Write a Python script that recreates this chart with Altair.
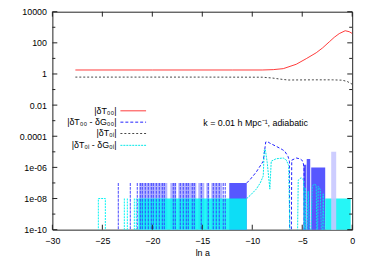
import altair as alt
import pandas as pd

FLOOR = 1e-12  # "zero" values, clipped below the axis

# |dT00| (red)
red_x = [-27.7, -20, -12, -9.0, -7.9, -6.9, -5.6, -4.6, -3.6, -2.95, -2.3, -1.8, -1.3, -0.7, -0.3, 0.0]
red_y = [1.8, 1.8, 1.8, 1.8, 1.9, 2.2, 4.2, 9.6, 23, 48, 115, 225, 390, 600, 520, 400]

# |dT0i| (black dotted)
blk_x = [-27.7, -15, -9, -8, -7, -6.4, -4, -2, -1, -0.5, 0]
blk_y = [0.63, 0.63, 0.62, 0.55, 0.45, 0.41, 0.42, 0.42, 0.4, 0.33, 0.22]

# |dT00 - dG00| (blue dashed) smooth part
blu_x = [-10.55, -10.2, -9.6, -8.9, -8.65, -8.5, -8.24, -7.57, -7.0, -6.75, -6.42, -6.28, -6.25,
         -6.1, -6.05, -5.59, -5.2, -4.93, -4.82, -4.8]
blu_y = [1e-7, 1.7e-7, 5e-7, 2.5e-6, 4.3e-5, 4.6e-5, 3.6e-5, 2.2e-5, 1.4e-5, 1.1e-5, 5e-6, 2.5e-6, FLOOR,
         FLOOR, 2.9e-6, 4e-6, 3.5e-6, 2.5e-6, 1e-6, FLOOR]
# blue noise: single dashed spikes (top 1e-7)
blu_spike_x = [-23.4, -22.2, -21.5, -21.2, -21.0, -20.7, -20.4, -20.1, -19.9, -19.6, -19.3, -19.0, -18.8,
               -17.9, -17.7, -17.2, -16.9, -16.6, -16.4, -16.0, -15.8, -15.1, -14.4, -13.9, -13.6,
               -13.3, -12.9, -12.7]
blu_spike_top = 1e-7
# blue noise: light (sparse) bands
blu_lt_x1 = [-21.3, -18.2, -17.4, -15.4, -14.6, -14.1]
blu_lt_x2 = [-18.5, -17.6, -15.6, -14.8, -14.3, -13.0]
blu_lt_top = [1e-7, 1e-7, 1e-7, 1e-7, 1e-7, 1e-7]
# blue noise: dense blocks
blu_dk_x1 = [-12.3, -4.87, -4.55, -4.1]
blu_dk_x2 = [-10.55, -4.6, -4.2, -2.7]
blu_dk_top = [1e-7, 1.5e-6, 3.5e-6, 1e-6]
# light strip near ln a = -2
blu_strip_x1 = [-2.1]
blu_strip_x2 = [-1.6]
blu_strip_top = [1e-5]

# |dT0i - dG0i| (cyan)
cyn_x = [-10.55, -10.2, -9.6, -9.2, -8.9, -8.8, -8.7, -8.5, -8.3, -8.24, -8.1, -7.6, -6.9, -6.6, -6.35, -6.2,
         -5.5, -5.4, -5.1, -4.85, -4.8, -4.7, -4.6, -4.4, -4.2, -4.0, -3.8, -3.6, -3.5, -3.4, -3.2, -3.0,
         -2.9, -2.75]
cyn_y = [1e-8, 1.6e-8, 4e-8, 1e-7, 2.8e-7, 1.3e-5, 1.5e-5, 2e-6, 1e-7, 4e-8, 2.5e-6, 3.6e-6, 4e-6, 3e-6, 1.3e-6, FLOOR,
         FLOOR, 1.5e-7, 2.2e-7, 1.5e-7, FLOOR, 5e-8, FLOOR, 3e-8, FLOOR, 6e-8, 8.5e-8, 7e-8, FLOOR, 6e-8, 4e-8, FLOOR,
         2e-8, FLOOR]
cyn_box_x = [-25.4, -25.4, -24.7, -24.7]
cyn_box_y = [FLOOR, 1e-8, 1e-8, FLOOR]
cyn_spike_x = [-22.8, -22.5, -21.8, -21.6]
cyn_spike_top = 1e-8
cyn_band_x1 = [-21.4, -2.7]
cyn_band_x2 = [-10.55, -0.15]
cyn_band_top = [1e-8, 1e-8]

x_ticks = [-30, -25, -20, -15, -10, -5, 0]
y_major = [1e4, 1e2, 1, 1e-2, 1e-4, 1e-6, 1e-8, 1e-10]
y_minor = [1e3, 10, 0.1, 1e-3, 1e-5, 1e-7, 1e-9]

legend_labels = ["|δT₀₀|", "|δT₀₀ - δG₀₀|", "|δT₀ᵢ|", "|δT₀ᵢ - δG₀ᵢ|"]
note = "k = 0.01 h Mpc⁻¹, adiabatic"

W, H = 304, 221
FONT = "Liberation Sans"
RED, BLUE, BLACK, CYAN = "#ff3a3a", "#2020ff", "#444444", "#00f4f4"

XS = alt.Scale(domain=[-30, 0], nice=False, zero=False)
YS = alt.Scale(type="log", domain=[1e-10, 1e4], nice=False)
XA = alt.Axis(values=x_ticks, format="d", ticks=False, domain=False, grid=False,
              labelPadding=7, labelFlush=False, labelOverlap=False, title="ln a", titlePadding=3)
YA = alt.Axis(values=y_major, ticks=False, domain=False, grid=False, labelPadding=6,
              labelOverlap=False, labelFlush=False, title=None,
              labelExpr="datum.value >= 0.0001 ? format(datum.value, '~g') : "
                        "(round(-log(datum.value)/LN10) < 10 ? '1e-0' : '1e-') + round(-log(datum.value)/LN10)")


def X(f):
    return alt.X(f, type="quantitative", scale=XS, axis=XA)


def Y(f):
    return alt.Y(f, type="quantitative", scale=YS, axis=YA)


def df(**kw):
    return pd.DataFrame(kw)


floor_col = lambda n: [FLOOR] * n

red = alt.Chart(df(x=red_x, y=red_y)).mark_line(color=RED, strokeWidth=1, clip=True).encode(
    x=X("x"), y=Y("y"))

blu_light = alt.Chart(df(x1=blu_lt_x1, x2=blu_lt_x2, t=blu_lt_top, b=floor_col(len(blu_lt_x1)))).mark_rect(
    color="#b4b4ff", clip=True).encode(x=X("x1"), x2="x2", y=Y("t"), y2="b")
blu_dark = alt.Chart(df(x1=blu_dk_x1, x2=blu_dk_x2, t=blu_dk_top, b=floor_col(len(blu_dk_x1)))).mark_rect(
    color="#3a3aff", opacity=0.85, clip=True).encode(x=X("x1"), x2="x2", y=Y("t"), y2="b")
cyn_band = alt.Chart(df(x1=cyn_band_x1, x2=cyn_band_x2, t=cyn_band_top, b=floor_col(len(cyn_band_x1)))).mark_rect(
    color=CYAN, opacity=0.85, clip=True).encode(x=X("x1"), x2="x2", y=Y("t"), y2="b")
blu_spikes = alt.Chart(df(x=blu_spike_x, t=[blu_spike_top] * len(blu_spike_x),
                          b=floor_col(len(blu_spike_x)))).mark_rule(
    color="#3030ff", strokeWidth=1.2, strokeDash=[3, 1], opacity=0.75, clip=True).encode(x=X("x"), y=Y("t"), y2="b")
blu_strip = alt.Chart(df(x1=blu_strip_x1, x2=blu_strip_x2, t=blu_strip_top, b=floor_col(1))).mark_rect(
    color="#c8c8ff", opacity=0.9, clip=True).encode(x=X("x1"), x2="x2", y=Y("t"), y2="b")
blu_line = alt.Chart(df(x=blu_x, y=blu_y, o=list(range(len(blu_x))))).mark_line(
    color=BLUE, strokeWidth=1, strokeDash=[3, 2], clip=True).encode(x=X("x"), y=Y("y"), order="o:Q")
blk_line = alt.Chart(df(x=blk_x, y=blk_y)).mark_line(
    color=BLACK, strokeWidth=1, strokeDash=[2, 2], clip=True).encode(x=X("x"), y=Y("y"))
cyn_spikes = alt.Chart(df(x=cyn_spike_x, t=[cyn_spike_top] * len(cyn_spike_x),
                          b=floor_col(len(cyn_spike_x)))).mark_rule(
    color=CYAN, strokeWidth=1, strokeDash=[2, 1], clip=True).encode(x=X("x"), y=Y("t"), y2="b")
cyn_box = alt.Chart(df(x=cyn_box_x, y=cyn_box_y, o=list(range(4)))).mark_line(
    color=CYAN, strokeWidth=1, strokeDash=[2, 1], clip=True).encode(x=X("x"), y=Y("y"), order="o:Q")
cyn_line = alt.Chart(df(x=cyn_x, y=cyn_y, o=list(range(len(cyn_x))))).mark_line(
    color="#00e8e8", strokeWidth=1, strokeDash=[2, 1], clip=True).encode(x=X("x"), y=Y("y"), order="o:Q")

# border ticks (inward, gnuplot style)
tick_col = "#222222"
xt = pd.DataFrame({"x": x_ticks})
x_bot = alt.Chart(xt).mark_rule(color=tick_col).encode(x=X("x"), y=alt.value(H), y2=alt.value(H - 5))
x_top = alt.Chart(xt).mark_rule(color=tick_col).encode(x=X("x"), y=alt.value(0), y2=alt.value(5))
ymj = pd.DataFrame({"y": y_major})
ymn = pd.DataFrame({"y": y_minor})
y_l_mj = alt.Chart(ymj).mark_rule(color=tick_col).encode(y=Y("y"), x=alt.value(0), x2=alt.value(5))
y_r_mj = alt.Chart(ymj).mark_rule(color=tick_col).encode(y=Y("y"), x=alt.value(W), x2=alt.value(W - 5))
y_l_mn = alt.Chart(ymn).mark_rule(color=tick_col).encode(y=Y("y"), x=alt.value(0), x2=alt.value(3))
y_r_mn = alt.Chart(ymn).mark_rule(color=tick_col).encode(y=Y("y"), x=alt.value(W), x2=alt.value(W - 3))

# legend (gnuplot style: label, then sample)
leg_y = [100.5, 112.0, 123.5, 135.5]
leg_styles = [dict(color=RED), dict(color=BLUE, strokeDash=[3, 2]),
              dict(color=BLACK, strokeDash=[2, 2]), dict(color="#00e8e8", strokeDash=[2, 1])]
legend_layers = []
for lab, yy, st in zip(legend_labels, leg_y, leg_styles):
    legend_layers.append(
        alt.Chart(pd.DataFrame({"a": [0]})).mark_text(
            align="right", baseline="middle", font=FONT, fontSize=9, color="black").encode(
            x=alt.value(65), y=alt.value(yy), text=alt.value(lab)))
    legend_layers.append(
        alt.Chart(pd.DataFrame({"a": [0]})).mark_rule(strokeWidth=1, **st).encode(
            x=alt.value(69), x2=alt.value(95), y=alt.value(yy)))

note_layer = alt.Chart(pd.DataFrame({"a": [0]})).mark_text(
    align="left", baseline="middle", font=FONT, fontSize=9, color="black").encode(
    x=alt.value(153), y=alt.value(112.5), text=alt.value(note))

chart = alt.layer(
    red, blu_light, blu_dark, cyn_band, blu_spikes, blu_strip, blu_line, blk_line,
    cyn_spikes, cyn_box, cyn_line,
    x_bot, x_top, y_l_mj, y_r_mj, y_l_mn, y_r_mn,
    *legend_layers, note_layer,
).properties(
    width=W, height=H,
    autosize=alt.AutoSizeParams(type="none"),
    padding={"left": 45, "top": 2, "right": 14, "bottom": 28},
    background="white",
).configure_view(
    stroke="#222222", strokeWidth=1
).configure_axis(
    labelFont=FONT, labelFontSize=9, labelColor="black",
    titleFont=FONT, titleFontSize=9, titleFontWeight="normal", titleColor="black",
)

chart.save("out.html", embed_options={"renderer": "svg", "actions": False})
